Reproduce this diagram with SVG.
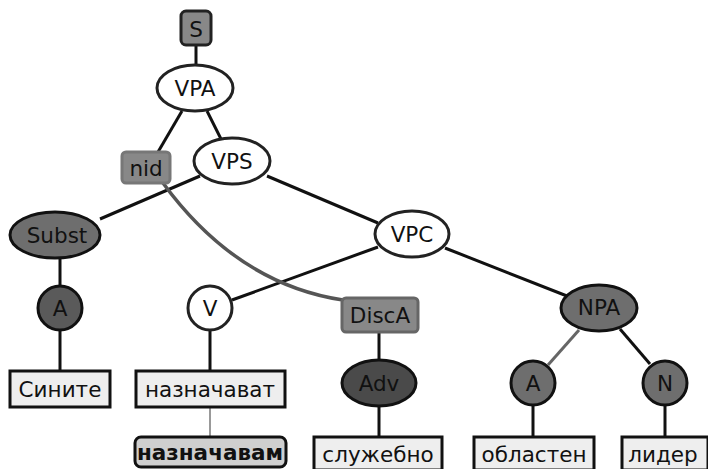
<svg xmlns="http://www.w3.org/2000/svg" width="708" height="469" viewBox="0 0 708 469">
<style>
text{font-family:"DejaVu Sans","Liberation Sans",sans-serif;font-size:21.5px;fill:#111;text-anchor:middle;dominant-baseline:central}
.e{stroke:#111;stroke-width:3;fill:none}
.eg{stroke:#666;stroke-width:3;fill:none}
.white{fill:#fff;stroke:#222;stroke-width:3}
.g1{fill:#888;stroke:#222;stroke-width:3}
.g2{fill:#6e6e6e;stroke:#111;stroke-width:3}
.g3{fill:#5a5a5a;stroke:#111;stroke-width:3}
.word{fill:#eee;stroke:#111;stroke-width:3}
</style>
<rect width="708" height="469" fill="#fff"/>
<g id="connectors">
<line class="e" x1="196" y1="45" x2="196" y2="66"/>
<line class="e" x1="182" y1="111" x2="158" y2="152"/>
<line class="e" x1="207" y1="111" x2="221" y2="139"/>
<line class="e" x1="200" y1="176" x2="100" y2="219"/>
<line class="e" x1="267" y1="176" x2="378" y2="223"/>
<line class="e" x1="378" y1="247" x2="232" y2="300"/>
<line class="e" x1="445" y1="248" x2="567" y2="296"/>
<line class="e" x1="60" y1="258" x2="60" y2="285"/>
<line class="e" x1="60" y1="331" x2="60" y2="371"/>
<line class="e" x1="210" y1="331" x2="210" y2="371"/>
<line stroke="#777" stroke-width="1.5" x1="210" y1="407" x2="210" y2="437"/>
<line class="e" x1="379" y1="332" x2="379" y2="360"/>
<line class="e" x1="379" y1="406" x2="379" y2="437"/>
<line class="eg" x1="579" y1="330" x2="548" y2="365"/>
<line class="e" x1="620" y1="329" x2="650" y2="364"/>
<line class="e" x1="533" y1="405" x2="533" y2="437"/>
<line class="e" x1="665" y1="406" x2="665" y2="437"/>
<path d="M163,183 Q237,284 343,300" stroke="#555" stroke-width="3.5" fill="none"/>
</g>
<g id="S"><rect class="g1" x="181" y="11" width="30" height="34" rx="5"/><text x="196" y="29">S</text></g>
<g id="VPA"><ellipse class="white" cx="195" cy="88" rx="38" ry="23"/><text x="195" y="88">VPA</text></g>
<g id="nid"><rect x="122" y="152" width="48" height="31" rx="4" fill="#888" stroke="#777" stroke-width="3"/><text x="146" y="168">nid</text></g>
<g id="VPS"><ellipse class="white" cx="232" cy="161" rx="38" ry="23"/><text x="232" y="161">VPS</text></g>
<g id="Subst"><ellipse class="g2" cx="55" cy="235" rx="45" ry="23"/><text x="57" y="235">Subst</text></g>
<g id="VPC"><ellipse class="white" cx="412" cy="234" rx="37" ry="23"/><text x="412" y="234">VPC</text></g>
<g id="DiscA"><rect x="342" y="298" width="76" height="34" rx="4" fill="#888" stroke="#666" stroke-width="3"/><text x="380" y="315">DiscA</text></g>
<g id="NPA"><ellipse class="g2" cx="599" cy="308" rx="38" ry="23"/><text x="599" y="307">NPA</text></g>
<g id="A1"><circle class="g3" cx="60" cy="308" r="22"/><text x="60" y="308">A</text></g>
<g id="V"><circle class="white" cx="210" cy="308" r="22"/><text x="210" y="308">V</text></g>
<g id="Adv"><ellipse cx="379" cy="383" rx="37" ry="23" fill="#4a4a4a" stroke="#111" stroke-width="3"/><text x="379" y="383">Adv</text></g>
<g id="A2"><circle class="g2" cx="533" cy="383" r="22"/><text x="533" y="383">A</text></g>
<g id="N"><circle class="g2" cx="665" cy="383" r="22"/><text x="665" y="383">N</text></g>
<g id="w1"><rect class="word" x="10" y="371" width="100" height="36"/><text x="60" y="389">Сините</text></g>
<g id="w2"><rect class="word" x="136" y="371" width="149" height="36"/><text x="210" y="389">назначават</text></g>
<g id="w3"><rect x="135" y="437" width="151" height="30" rx="6" fill="#cfcfcf" stroke="#111" stroke-width="3"/><text x="210" y="452" font-weight="bold" font-size="20.5px">назначавам</text></g>
<g id="w4"><rect class="word" x="314" y="437" width="128" height="33"/><text x="378" y="454">служебно</text></g>
<g id="w5"><rect class="word" x="474" y="437" width="120" height="33"/><text x="534" y="454">областен</text></g>
<g id="w6"><rect class="word" x="622" y="437" width="86" height="33"/><text x="663" y="454">лидер</text></g>
</svg>
